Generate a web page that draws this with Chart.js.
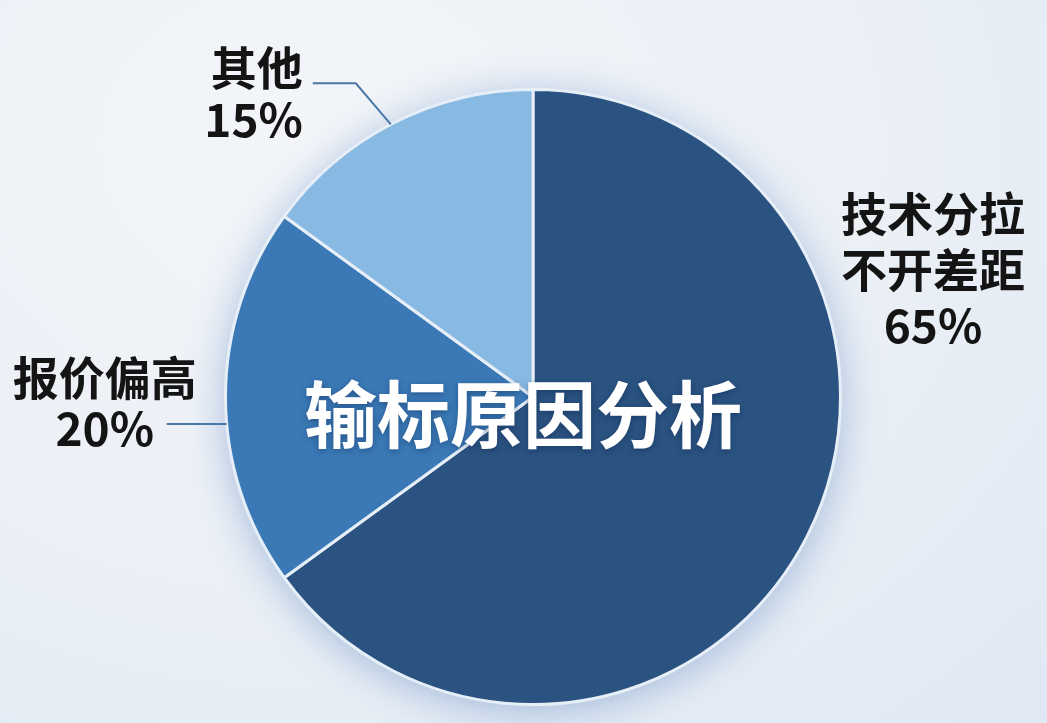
<!DOCTYPE html>
<html>
<head>
<meta charset="utf-8">
<script src="https://cdn.jsdelivr.net/npm/chart.js@4.4.1/dist/chart.umd.min.js"></script>
<style>
  html, body { margin: 0; padding: 0; width: 1047px; height: 723px; overflow: hidden; }
  body {
    background: radial-gradient(ellipse at 30% 20%, #f3f5f9 0%, #ebf0f6 55%, #dfe8f3 100%);
  }
  #wrap { position: relative; width: 1047px; height: 723px; }
</style>
</head>
<body>
<div id="wrap"><canvas id="chartReasons" width="1047" height="723"></canvas></div>
<script>
// 输标原因分析
var reasonLabels = ['技术分拉不开差距', '报价偏高', '其他'];
var reasonLines = [['技术分拉', '不开差距', '65%'], ['报价偏高', '20%'], ['其他', '15%']];
var reasonValues = [65, 20, 15];
var reasonColors = ['#2a5381', '#3a79b6', '#88b9e2'];
var chartTitle = '输标原因分析';

var FONT = '"Noto Sans CJK SC", "Noto Sans", sans-serif';

// soft blue glow under the pie
var pieShadow = {
    id: 'pieShadow',
    beforeDatasetsDraw(chart) {
        var arc = chart.getDatasetMeta(0).data[0];
        if (!arc) return;
        var ctx = chart.ctx;
        ctx.save();
        ctx.shadowColor = 'rgba(70, 120, 185, 0.45)';
        ctx.shadowBlur = 40;
        ctx.shadowOffsetY = 6;
        ctx.fillStyle = '#cfdcec';
        ctx.beginPath();
        ctx.arc(arc.x, arc.y, arc.outerRadius, 0, Math.PI * 2);
        ctx.fill();
        ctx.restore();
    }
};

// outside labels + leader lines, center title
var pieLabels = {
    id: 'pieLabels',
    afterDatasetsDraw(chart, args, opts) {
        var ctx = chart.ctx;
        var meta = chart.getDatasetMeta(0);
        var cx = meta.data[0].x, cy = meta.data[0].y;
        ctx.save();
        ctx.font = 'bold 46px ' + FONT;
        ctx.textBaseline = 'middle';
        ctx.fillStyle = '#141414';

        meta.data.forEach(function (arc, i) {
            var cfg = opts.items[i];
            var lines = reasonLines[i];
            var tx, ty;
            if (cfg.line) {
                var a = arc.startAngle + (arc.endAngle - arc.startAngle) * cfg.at;
                var r = arc.outerRadius;
                var px = cx + Math.cos(a) * r, py = cy + Math.sin(a) * r;
                var ex = px + cfg.elbow[0], ey = py + cfg.elbow[1];
                var lx = ex - cfg.run;
                ctx.strokeStyle = '#4a78a6';
                ctx.lineWidth = 2;
                ctx.beginPath();
                ctx.moveTo(px, py);
                ctx.lineTo(ex, ey);
                ctx.lineTo(lx, ey);
                ctx.stroke();
                tx = lx + cfg.text[0];
                ty = ey + cfg.text[1];
            } else {
                // no leader: placed from the pie centre
                tx = cx + cfg.text[0];
                ty = cy + cfg.text[1];
            }
            ctx.textAlign = cfg.align;
            lines.forEach(function (t, k) {
                ctx.fillText(t, tx, ty + k * cfg.lh);
            });
        });

        // title in the middle
        ctx.font = 'bold 73px ' + FONT;
        ctx.textAlign = 'center';
        ctx.fillStyle = '#ffffff';
        ctx.shadowColor = 'rgba(0, 20, 60, 0.35)';
        ctx.shadowBlur = 6;
        ctx.shadowOffsetY = 2;
        ctx.fillText(chartTitle, cx - 10, cy + 17);
        ctx.restore();
    }
};

var ctx = document.getElementById('chartReasons').getContext('2d');
var reasonChart = new Chart(ctx, {
    type: 'pie',
    data: {
        labels: reasonLabels,
        datasets: [{
            data: reasonValues,
            backgroundColor: reasonColors,
            borderColor: '#e6eef7',
            borderWidth: 3
        }]
    },
    options: {
        responsive: false,
        animation: false,
        layout: { padding: { left: 224, right: 205, top: 87, bottom: 16 } },
        plugins: {
            legend: { display: false },
            tooltip: { enabled: false },
            pieLabels: {
                items: [
                    { line: false, text: [400, -183], align: 'center', lh: 56 },
                    { at: 0.43, line: true, elbow: [0, 0], run: 60, text: [-62, -46], align: 'center', lh: 51 },
                    { at: 0.49, line: true, elbow: [-35, -41], run: 43, text: [-10, -16], align: 'right', lh: 52 }
                ]
            }
        }
    },
    plugins: [pieShadow, pieLabels]
});
</script>
</body>
</html>
